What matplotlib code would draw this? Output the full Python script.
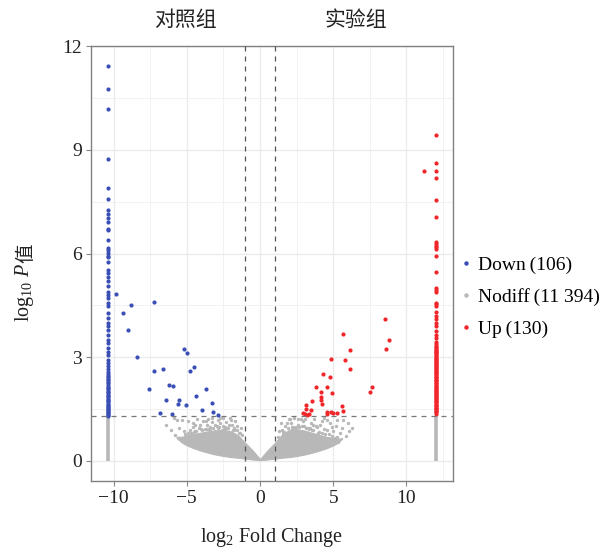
import numpy as np
import matplotlib
matplotlib.use("Agg")
import matplotlib.pyplot as plt
from matplotlib.lines import Line2D

plt.rcParams['font.family'] = ['Liberation Serif', 'Noto Sans CJK SC']
plt.rcParams['mathtext.fontset'] = 'custom'
plt.rcParams['mathtext.rm'] = 'Liberation Serif'
plt.rcParams['mathtext.it'] = 'Liberation Serif:italic'

# capped fold changes (points piled at the axis limits)
down_cap_x = -10.41
up_cap_x = 12.04

down_col_y = [11.44, 10.76, 10.18, 8.73, 7.90, 7.58, 7.27, 7.15, 7.02, 6.92, 6.72, 6.69,
              6.39, 6.16, 6.09, 6.01, 5.93, 5.90, 5.75, 5.51, 5.43, 5.32, 5.22, 5.07,
              4.90, 4.80, 4.71, 4.56, 4.47, 4.29, 4.13, 4.00, 3.91, 3.79, 3.63, 3.50,
              3.41, 3.26, 3.14, 3.05, 2.92, 2.83, 2.75, 2.65, 2.58, 2.52, 2.47, 2.43,
              2.38, 2.33, 2.29, 2.24, 2.20, 2.15, 2.11, 2.07, 2.03, 1.99, 1.95, 1.91,
              1.87, 1.84, 1.80, 1.77, 1.73, 1.70, 1.66, 1.63, 1.60, 1.56, 1.53, 1.50,
              1.47, 1.44, 1.41, 1.38, 1.35, 1.33, 1.31]
down_x = [-9.82, -8.82, -9.38, -7.27, -9.02, -8.38, -5.18, -5.02, -6.61, -7.25, -4.77,
          -4.50, -6.20, -5.95, -7.59, -3.70, -4.36, -6.45, -5.54, -5.63, -5.04, -3.27,
          -3.95, -6.82, -6.00, -3.18, -2.88]
down_y = [4.82, 4.51, 4.27, 4.60, 3.80, 3.00, 3.24, 3.12, 2.67, 2.60, 2.60,
          2.72, 2.21, 2.18, 2.08, 2.07, 1.89, 1.75, 1.77, 1.66, 1.62, 1.67,
          1.46, 1.38, 1.37, 1.41, 1.34]

up_col_y = [9.42, 8.61, 8.39, 8.20, 7.55, 7.06, 6.33, 6.28, 6.23, 6.18, 6.14, 5.93,
            5.46, 5.00, 4.95, 4.90, 4.58, 4.53, 4.49, 4.32, 4.20, 4.10, 4.00, 3.91,
            3.76, 3.65, 3.55, 3.45, 3.38, 3.33, 3.29, 3.26, 3.22, 3.20, 3.16, 3.14,
            3.11, 3.07, 3.05, 3.02, 2.98, 2.96, 2.93, 2.89, 2.87, 2.84, 2.80, 2.78,
            2.75, 2.71, 2.69, 2.66, 2.62, 2.60, 2.57, 2.53, 2.51, 2.48, 2.44, 2.42,
            2.39, 2.35, 2.33, 2.30, 2.26, 2.24, 2.21, 2.17, 2.15, 2.12, 2.08, 2.06,
            2.03, 1.99, 1.97, 1.94, 1.90, 1.88, 1.85, 1.81, 1.79, 1.76, 1.72, 1.70,
            1.67, 1.63, 1.61, 1.58, 1.54, 1.52, 1.49, 1.45, 1.43, 1.40, 1.36]
up_x = [8.50, 8.79, 8.59, 5.68, 6.11, 5.79, 6.11, 4.82, 4.27, 4.77, 3.80, 4.55,
        4.14, 4.91, 4.14, 4.16, 4.23, 3.57, 3.11, 5.57, 3.14, 7.66, 7.50, 5.68,
        2.91, 3.04, 3.23, 3.36, 4.59, 4.82, 4.95, 5.27, 4.55, 11.20, 3.45]
up_y = [4.12, 3.51, 3.24, 3.68, 3.20, 2.92, 2.65, 2.96, 2.52, 2.42, 2.13, 2.13,
        1.99, 1.96, 1.86, 1.75, 1.65, 1.72, 1.62, 1.60, 1.50, 2.15, 1.98, 1.45,
        1.38, 1.35, 1.33, 1.35, 1.40, 1.42, 1.39, 1.38, 1.35, 8.39, 1.47]

# dense non-significant cloud: envelope
core_x = [-5.7, -5.3, -5.0, -4.5, -4.0, -3.5, -3.0, -2.5, -2.0, -1.5, -1.1, -0.5, 0.0,
          0.5, 1.1, 1.5, 2.0, 2.5, 3.0, 3.5, 4.0, 4.5, 5.0, 5.3, 5.6]
core_low = [0.66, 0.52, 0.45, 0.36, 0.29, 0.23, 0.18, 0.14, 0.11, 0.09, 0.07, 0.04, 0.02,
            0.04, 0.07, 0.09, 0.11, 0.14, 0.18, 0.23, 0.29, 0.36, 0.45, 0.52, 0.64]
core_high = [0.70, 0.70, 0.74, 0.78, 0.82, 0.86, 0.88, 0.90, 0.86, 0.74, 0.56, 0.30, 0.05,
             0.30, 0.56, 0.76, 0.90, 0.92, 0.88, 0.82, 0.76, 0.70, 0.66, 0.64, 0.66]
nodiff_x = [-5.34, -5.79, -4.55, -4.43, -4.20, -3.63, -3.40, -2.84, -2.73, -2.61, -3.07,
            -3.86, -4.77, -5.00, -2.39, -2.27, -5.68, -4.43, -3.52, -2.10, -1.80, -1.55,
            -3.25, -4.00, -4.90, -2.95, -3.70, -1.95, -1.40, -2.50,
            -5.50, -5.20, -4.80, -4.60, -4.30, -4.10, -3.90, -3.60, -3.30, -3.10, -2.90,
            -2.70, -2.55, -2.35, -2.20, -2.05, -1.90, -1.70, -1.60, -1.30, -1.20, -6.10,
            -6.40, -5.90, -3.45, -4.90, -2.45, -1.85,
            -5.1, -4.7, -4.35, -3.95, -3.75, -3.2, -2.8, -2.3, -1.75, -1.45, -4.5, -3.5,
            2.95, 4.20, 4.55, 5.27, 5.68, 6.09, 5.57, 4.89, 3.64, 2.16, 2.50, 3.18,
            3.98, 5.11, 5.34, 2.73, 3.41, 2.27, 1.48, 1.85, 3.80, 4.40, 2.60, 1.60,
            3.00, 4.70, 5.90, 2.05,
            1.30, 1.45, 1.70, 1.90, 2.10, 2.30, 2.40, 2.60, 2.85, 3.05, 3.30, 3.50,
            3.70, 3.90, 4.10, 4.35, 4.60, 4.80, 5.00, 5.20, 5.45, 6.00, 6.30, 1.20,
            2.00, 2.80, 3.60,
            1.65, 2.2, 2.65, 3.15, 3.55, 4.0, 4.45, 4.9, 5.25, 2.45, 3.35, 4.25]
nodiff_y = [1.19, 0.75, 0.99, 0.85, 0.95, 1.04, 0.99, 1.19, 1.09, 0.90, 0.85,
            0.70, 0.66, 0.52, 0.99, 0.75, 1.19, 1.04, 1.22, 1.05, 0.95, 0.88,
            1.12, 0.92, 0.80, 1.00, 1.15, 1.18, 0.82, 1.25,
            0.95, 0.85, 0.90, 1.10, 1.20, 1.05, 1.15, 0.92, 1.25, 1.05, 0.95,
            1.25, 1.02, 1.12, 0.95, 1.25, 1.05, 1.15, 1.00, 0.95, 0.75, 0.90,
            1.05, 1.25, 0.90, 1.15, 0.92, 0.90,
            0.78, 0.82, 0.86, 0.89, 0.93, 0.94, 0.97, 0.96, 0.90, 0.80, 0.84, 0.93,
            1.14, 1.14, 1.19, 1.19, 1.19, 0.85, 0.95, 0.99, 1.04, 0.90, 0.85, 0.80,
            0.80, 0.66, 0.56, 0.70, 0.95, 0.99, 0.90, 1.10, 1.00, 0.92, 1.20, 0.82,
            1.00, 0.78, 0.72, 1.22,
            0.85, 1.10, 1.00, 0.95, 1.10, 1.25, 0.95, 1.05, 1.00, 1.20, 0.95, 1.10,
            1.20, 0.98, 1.05, 1.25, 0.90, 1.10, 0.85, 1.00, 0.80, 1.10, 0.95, 0.70,
            1.20, 1.22, 0.88,
            0.84, 0.97, 0.99, 0.95, 0.88, 0.83, 0.77, 0.72, 0.70, 0.98, 0.91, 0.80]
nodiff_cap_top = 1.30

labels = ['Down\u2009(106)', 'Nodiff\u2009(11 394)', 'Up\u2009(130)']
colors = ['#3A4FB5', '#B8B8B8', '#F0262B']
p_cut = 1.301
fc_cut = 1.0

fig = plt.figure(figsize=(6.16, 5.53), dpi=100)
ax = fig.add_axes([0.148, 0.131, 0.587, 0.786])

# non-significant genes
ax.fill_between(core_x, core_low, core_high, color=colors[1], lw=0.8,
                edgecolor=colors[1], zorder=2)
ax.scatter(nodiff_x, nodiff_y, s=6, color=colors[1], lw=0, zorder=2)
ax.vlines([down_cap_x, up_cap_x], 0.0, nodiff_cap_top, color=colors[1], lw=2.6, zorder=2)

# significant genes
ax.scatter([down_cap_x] * len(down_col_y) + down_x, down_col_y + down_y,
           s=9, color=colors[0], lw=0, zorder=3)
ax.scatter([up_cap_x] * len(up_col_y) + up_x, up_col_y + up_y,
           s=9, color=colors[2], lw=0, zorder=3)

for v in (-fc_cut, fc_cut):
    ax.axvline(v, color='#555555', lw=0.9, ls=(0, (4, 4)), zorder=4)
ax.axhline(p_cut, color='#777777', lw=0.9, ls=(0, (4, 4)), zorder=4)

ax.set_xlim(-11.53, 13.16)
ax.set_ylim(-0.57, 12.01)
ax.set_xticks([-10, -5, 0, 5, 10])
ax.set_xticklabels(['−10', '−5', '0', '5', '10'])
ax.set_yticks([0, 3, 6, 9, 12])
ax.set_xticks([-7.5, -2.5, 2.5, 7.5, 12.5], minor=True)
ax.set_yticks([1.5, 4.5, 7.5, 10.5], minor=True)
ax.grid(which='major', color='#EBEBEB', lw=1.0, zorder=0)
ax.grid(which='minor', color='#F2F2F2', lw=0.7, zorder=0)
ax.set_axisbelow(True)
ax.tick_params(which='major', length=3.5, width=0.8, color='#888888',
               labelsize=14, labelcolor='#222222', pad=3)
ax.tick_params(which='minor', length=0)
for s in ax.spines.values():
    s.set_color('#808080')
    s.set_linewidth(1.0)

ax.set_xlabel(r'$\mathrm{log}_{2}$ Fold Change', fontsize=14.5, color='#222222', labelpad=14)

# y label: math part, then the CJK character placed right after it
ylab = fig.text(25 / 616, 1 - 322 / 553, r'$\mathrm{log}_{10}\ P$', rotation=90,
                ha='center', va='bottom', fontsize=14.5, color='#222222')
fig.canvas.draw()
bb = ylab.get_window_extent()
fig.text((bb.x0 + bb.x1) / 2 / fig.bbox.width + 0.002, bb.y1 / fig.bbox.height,
         '值', rotation=90, ha='center', va='bottom', fontsize=14,
         family=['Noto Sans CJK SC'], color='#222222')

handles = [Line2D([], [], ls='', marker='o', ms=2.2, color=c) for c in colors]
fig.legend(handles, labels, loc='center left', bbox_to_anchor=(461 / 616, 1 - 297 / 553),
           frameon=False, fontsize=14, handlelength=0.5, handletextpad=0.35,
           labelspacing=0.72, borderpad=0, borderaxespad=0)

fig.text(185 / 616, 1 - 20 / 553, '对照组', fontsize=15, ha='center', va='center',
         family=['Noto Sans CJK SC'], color='#222222')
fig.text(356 / 616, 1 - 20 / 553, '实验组', fontsize=15, ha='center', va='center',
         family=['Noto Sans CJK SC'], color='#222222')

fig.savefig('out.png', dpi=100)
